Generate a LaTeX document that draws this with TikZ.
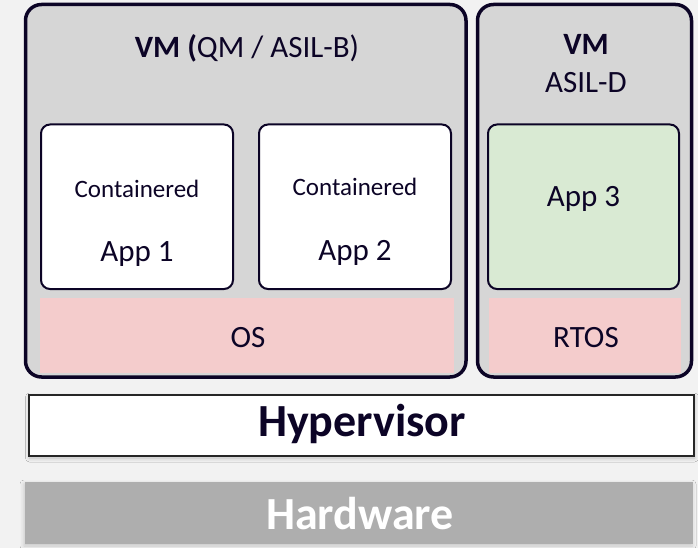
\documentclass[tikz,border=0pt]{standalone}
\usepackage{fontspec}
\setmainfont{Carlito}
\usetikzlibrary{shadows.blur}
\definecolor{bg}{HTML}{F2F2F2}
\definecolor{vmfill}{HTML}{D6D6D6}
\definecolor{ink}{HTML}{0C0426}
\definecolor{osfill}{HTML}{F4CCCC}
\definecolor{appgreen}{HTML}{D9EAD3}
\definecolor{hvline}{HTML}{262626}
\definecolor{hwfill}{HTML}{AEAEAE}
\newcommand{\fs}[1]{\fontsize{#1}{#1}\selectfont}
\begin{document}
\begin{tikzpicture}[x=1pt,y=-1pt,
  vmbox/.style={draw=ink, fill=vmfill, line width=3.5pt, rounded corners=16pt, inner sep=0},
  appbox/.style={draw=ink, fill=white, line width=2pt, rounded corners=9pt, inner sep=0},
  osbox/.style={fill=osfill, inner sep=0},
  lbl/.style={text=ink, anchor=base, inner sep=0, font=\fs{31}},
  small/.style={lbl, font=\fs{25}},
  big/.style={anchor=base, inner sep=0, font=\fs{46}\bfseries}
]
\fill[bg] (0,0) rectangle (698,548);
\useasboundingbox (0,0) rectangle (698,548);

% virtual machines
\node[vmbox, minimum width=440.5pt, minimum height=372.5pt] (vm1) at (245.75,190.75) {};
\node[vmbox, minimum width=214pt, minimum height=372.5pt] (vm2) at (584.5,190.75) {};

% applications
\node[appbox, minimum width=192pt, minimum height=164.5pt] (app1) at (137,206.75) {};
\node[appbox, minimum width=192pt, minimum height=164.5pt] (app2) at (355,206.75) {};
\node[appbox, fill=appgreen, minimum width=191pt, minimum height=164.5pt] (app3) at (583.5,206.75) {};

% operating systems
\node[osbox, minimum width=414pt, minimum height=75pt] (os) at (247,335.5) {};
\node[osbox, minimum width=192pt, minimum height=75pt] (rtos) at (585,335.5) {};

% hypervisor and hardware layers
\node[draw=hvline, fill=white, line width=2pt, inner sep=0,
      minimum width=665pt, minimum height=61pt,
      blur shadow={shadow xshift=1pt, shadow yshift=-2pt, shadow blur radius=4pt, shadow opacity=22}]
      (hv) at (361,425.5) {};
\node[fill=hwfill, inner sep=0, minimum width=668pt, minimum height=62pt,
      blur shadow={shadow xshift=-1pt, shadow yshift=-2pt, shadow blur radius=4pt, shadow opacity=18}]
      (hw) at (359,513) {};

% labels
\node[lbl] (t1) at (247,58) {\textbf{VM (}QM / ASIL-B)};
\node[lbl] (t2) at (586,55) {\textbf{VM}};
\node[lbl] (t3) at (586,93) {ASIL-D};
\node[small] (c1) at (137,197) {Containered};
\node[lbl] (a1) at (137,261) {App 1};
\node[small] (c2) at (355,196) {Containered};
\node[lbl] (a2) at (355,260) {App 2};
\node[lbl] (a3) at (583.5,206) {App 3};
\node[lbl] (o1) at (248,347) {OS};
\node[lbl] (o2) at (586,347) {RTOS};
\node[big, text=ink] (h1) at (362,436) {Hypervisor};
\node[big, text=white] (h2) at (360,529) {Hardware};
\end{tikzpicture}
\end{document}
